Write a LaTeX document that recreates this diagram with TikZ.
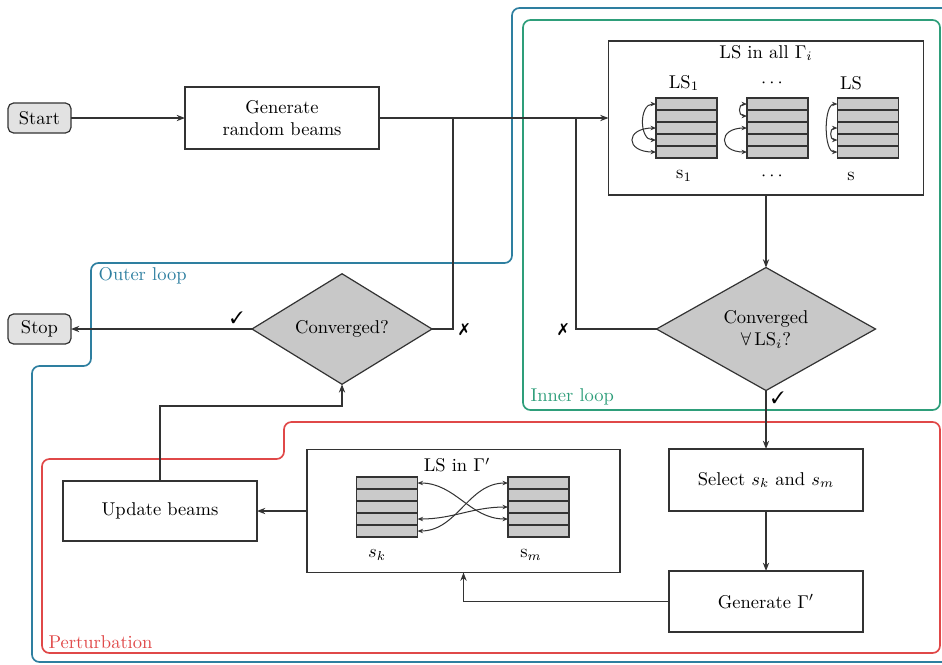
\documentclass[tikz,border=0pt]{standalone}
\usepackage{pifont}
\usetikzlibrary{shapes.geometric,arrows.meta}
\newdimen\pxl \pxl=0.54pt
\definecolor{outerc}{HTML}{2E7FA0}
\definecolor{innerc}{HTML}{2E9E7A}
\definecolor{pertc}{HTML}{E04848}
\definecolor{termgray}{HTML}{E2E2E2}
\definecolor{decgray}{HTML}{C8C8C8}
\definecolor{cellgray}{HTML}{CACACA}
\definecolor{ink}{HTML}{333333}
\tikzset{
  box/.style={draw=ink, rectangle, inner sep=0pt, outer sep=0pt, align=center},
  term/.style={draw=ink, rounded corners=3pt, fill=termgray, minimum width=63\pxl,
    minimum height=30\pxl, inner sep=0pt, outer sep=0pt},
  decision/.style={draw=ink, diamond, fill=decgray, inner sep=0pt, outer sep=0pt, align=center},
  cell/.style={draw=ink, fill=cellgray, minimum width=61\pxl, minimum height=12\pxl,
    inner sep=0pt, outer sep=0pt, line width=0.6pt},
  swap/.style={{Stealth[length=3pt,width=2.4pt]}-{Stealth[length=3pt,width=2.4pt]}, line width=0.55pt, draw=ink},
  flow/.style={draw=ink, -{Stealth[length=4.5pt,width=3.4pt]}},
  plain/.style={draw=ink},
  loopline/.style={line width=0.9pt, rounded corners=4pt},
  looplabel/.style={anchor=west, inner sep=0pt},
  tick/.style={font=\small, inner sep=0pt},
}
\begin{document}
\begin{tikzpicture}[x=0.54pt, y=-0.54pt, line width=0.65pt]
\useasboundingbox (0,0) rectangle (942,664);
\clip (0,0) rectangle (942,664);

% loop frames
\draw[outerc, loopline] (970,8) -- (512,8) -- (512,263) -- (91,263) -- (91,366)
  -- (32,366) -- (32,662) -- (970,662);
\draw[innerc, loopline] (523,20) rectangle (940,410);
\draw[pertc, loopline] (42,459) -- (284,459) -- (284,422) -- (940,422)
  -- (940,653) -- (42,653) -- cycle;
\node[looplabel, text=outerc] (lblouter) at (98,276) {Outer loop};
\node[looplabel, text=innerc] (lblinner) at (530,397) {Inner loop};
\node[looplabel, text=pertc] (lblpert) at (48,642) {Perturbation};

% main nodes
\node[term] (start) at (39.5,118) {Start};
\node[term] (stop) at (39.5,329) {Stop};
\node[box, minimum width=194\pxl, minimum height=62\pxl] (gen) at (282,118) {Generate\\random beams};
\node[box, minimum width=315\pxl, minimum height=154\pxl] (ls) at (766,118) {};
\node[decision, minimum width=180\pxl, minimum height=90\pxl] (conv) at (342,329) {Converged?};
\node[decision, minimum width=219\pxl, minimum height=108\pxl] (convall) at (766,329)
  {Converged\\$\forall\,$LS$_i$?};
\node[box, minimum width=194\pxl, minimum height=62\pxl] (sel) at (766,480) {Select $s_k$ and $s_m$};
\node[box, minimum width=194\pxl, minimum height=61\pxl] (genp) at (766,601.5) {Generate $\Gamma'$};
\node[box, minimum width=313\pxl, minimum height=123\pxl] (lsp) at (463.5,511) {};
\node[box, minimum width=194\pxl, minimum height=60\pxl] (upd) at (160,511) {Update beams};

% local searches in all Gamma_i
\node (lstitle) at (766,53) {LS in all $\Gamma_i$};
\node (lab1) at (684,83) {LS$_1$};
\node (labd) at (772,83) {$\cdots$};
\node (labn) at (851,83) {LS};
\node (sl1) at (684,176) {$\mathrm{s}_1$};
\node (sld) at (772,176) {$\cdots$};
\node (sln) at (851,176) {s};
\foreach \r in {1,...,5} {
  \node[cell] (a\r) at (686.5,92+12*\r) {};
  \node[cell] (b\r) at (777.5,92+12*\r) {};
  \node[cell] (c\r) at (868,92+12*\r) {};
}
\draw[swap] (a1.west) .. controls +(-17,0) and +(-17,0) .. (a4.west);
\draw[swap] (a3.west) .. controls +(-31,0) and +(-31,0) .. (a5.west);
\draw[swap] (b1.west) .. controls +(-9,0) and +(-9,0) .. (b2.west);
\draw[swap] (b3.west) .. controls +(-29,0) and +(-29,0) .. (b5.west);
\draw[swap] (c1.west) .. controls +(-14,0) and +(-14,0) .. (c5.west);
\draw[swap] (c3.west) .. controls +(-8,0) and +(-8,0) .. (c4.west);

% local search in Gamma'
\node (lsptitle) at (457,465) {LS in $\Gamma'$};
\foreach \r in {1,...,5} {
  \node[cell] (k\r) at (387,471+12*\r) {};
  \node[cell] (m\r) at (538.5,471+12*\r) {};
}
\draw[swap] (k1.east) to[out=0,in=180] (m4.west);
\draw[swap] (k5.east) to[out=0,in=180] (m1.west);
\draw[swap] (k4.east) to[out=0,in=180] (m3.west);
\node (skl) at (377,555) {$s_k$};
\node (sml) at (531,555) {$\mathrm{s}_m$};

% connectors
\coordinate (j1) at (453,118);
\coordinate (j2) at (576,118);
\coordinate (k0) at (342,406);
\draw[flow] (start) -- (gen);
\draw[flow] (gen.east) -- (ls.west);
\draw[plain] (conv.east) -| (j1);
\draw[plain] (convall.west) -| (j2);
\draw[flow] (conv.west) -- (stop.east);
\draw[flow] (ls.south) -- (convall.north);
\draw[flow] (convall.south) -- (sel.north);
\draw[flow] (sel) -- (genp);
\draw[flow] (genp.west) -| (lsp.south);
\draw[flow] (lsp.west) -- (upd.east);
\draw[flow] (upd.north) |- (k0) -- (conv.south);

% decision marks
\node[tick] (ok1) at (237,318) {\ding{51}};
\node[tick] (no1) at (464,330) {\ding{55}};
\node[tick] (no2) at (563,330) {\ding{55}};
\node[tick] (ok2) at (778,398) {\ding{51}};
\end{tikzpicture}
\end{document}
